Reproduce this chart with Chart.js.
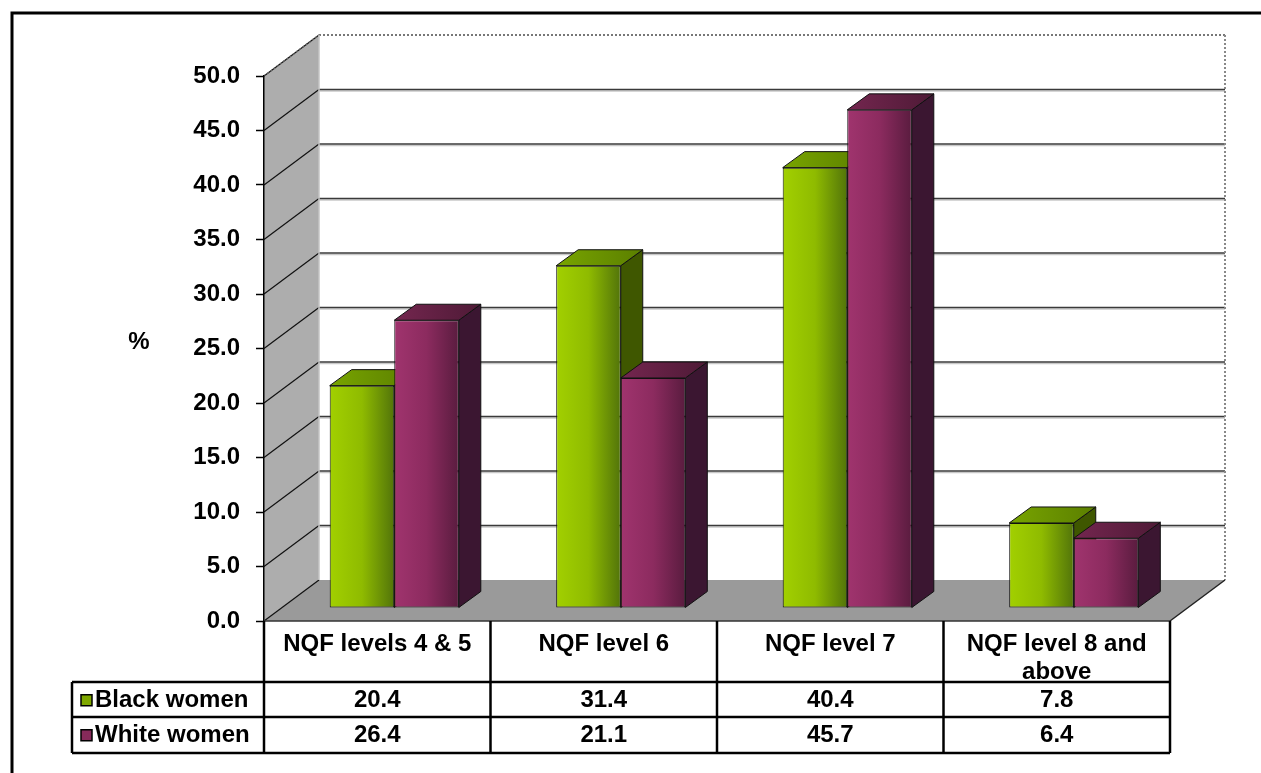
<!DOCTYPE html>
<html lang="en">
<head>
  <meta charset="UTF-8">
  <title>Black and white women by NQF level</title>
  <script src="https://cdn.jsdelivr.net/npm/chart.js"></script>
  <style>
    html, body { margin: 0; padding: 0; background: #fff; }
    canvas { display: block; }
  </style>
</head>
<body>
  <canvas id="chart" width="1261" height="773"></canvas>
  <script>
    // Data
    const categories = ['NQF levels 4 & 5', 'NQF level 6', 'NQF level 7', ['NQF level 8 and', 'above']];
    const seriesNames = ['Black women', 'White women'];
    const blackWomen = [20.4, 31.4, 40.4, 7.8];
    const whiteWomen = [26.4, 21.1, 45.7, 6.4];
    const yMin = 0;
    const yMax = 50;
    const yStep = 5;

    const FONT = "'Liberation Sans', Arial, sans-serif";
    const FONT_SIZE = 24;

    // 3D look: depth of the walls, shift of the bars into the box, bar thickness
    const WALL = { dx: 55, dy: -41 };
    const BAR_SHIFT = { dx: 17, dy: -13 };
    const BAR_DEPTH = { dx: 22, dy: -16 };
    const CAT_PCT = 0.57;

    const palette = [
      { front: ['#a2d000', '#8fbb00', '#52740a'], top: ['#78a400', '#5b7f00'], side: '#3f5700', marker: '#7fa800' },
      { front: ['#a0346e', '#8c2b5f', '#5a1c3f'], top: ['#74264f', '#4e1a36'], side: '#3b1631', marker: '#862a5a' }
    ];

    const TABLE = { left: 72, rowTops: [682, 717], rowH: 35.5, bottom: 753 };

    function barBounds(xs, index, dsIndex) {
      const cx = xs.getPixelForValue(index);
      const bw = (xs.right - xs.left) / categories.length * CAT_PCT / 2;
      const left = dsIndex === 0 ? cx - bw : cx;
      return { left: left, right: left + bw };
    }

    function frontFill(c) {
      const p = palette[c.datasetIndex];
      if (c.type !== 'data' || !c.chart.scales.x) return p.front[0];
      const b = barBounds(c.chart.scales.x, c.dataIndex, c.datasetIndex);
      if (!isFinite(b.left) || !isFinite(b.right)) return p.front[0];
      const g = c.chart.ctx.createLinearGradient(b.left, 0, b.right, 0);
      g.addColorStop(0, p.front[0]);
      g.addColorStop(0.5, p.front[1]);
      g.addColorStop(1, p.front[2]);
      return g;
    }

    function poly(ctx, pts, fill, stroke) {
      ctx.beginPath();
      ctx.moveTo(pts[0][0], pts[0][1]);
      for (let i = 1; i < pts.length; i++) ctx.lineTo(pts[i][0], pts[i][1]);
      ctx.closePath();
      if (fill) { ctx.fillStyle = fill; ctx.fill(); }
      if (stroke) { ctx.strokeStyle = stroke; ctx.lineWidth = 1; ctx.stroke(); }
    }

    function line(ctx, x1, y1, x2, y2, color, width) {
      ctx.beginPath();
      ctx.moveTo(x1, y1);
      ctx.lineTo(x2, y2);
      ctx.strokeStyle = color;
      ctx.lineWidth = width;
      ctx.stroke();
    }

    // Walls, floor and back gridlines
    const boxPlugin = {
      id: 'box3d',
      beforeDraw(chart) {
        const { ctx, chartArea: a, scales: { y } } = chart;
        ctx.save();
        ctx.fillStyle = '#fff';
        ctx.fillRect(0, 0, chart.width, chart.height);

        // outer frame
        ctx.strokeStyle = '#000';
        ctx.lineWidth = 3;
        ctx.strokeRect(12, 13, 1300, 800);

        const bl = a.left + WALL.dx, br = a.right + WALL.dx;
        const bt = a.top + WALL.dy, bb = a.bottom + WALL.dy;

        // back wall
        ctx.fillStyle = '#fff';
        ctx.fillRect(bl, bt, br - bl, bb - bt);

        // side wall
        poly(ctx, [[a.left, a.top], [bl, bt], [bl, bb], [a.left, a.bottom]], '#adadad');
        // floor
        poly(ctx, [[a.left, a.bottom], [a.right, a.bottom], [br, bb], [bl, bb]], '#9a9a9a');

        // gridlines on the back wall and the side wall
        for (let v = yMin; v <= yMax; v += yStep) {
          const yf = y.getPixelForValue(v);
          if (v > yMin && v < yMax) {
            line(ctx, bl, yf + WALL.dy + 1.5, br, yf + WALL.dy + 1.5, '#c8c8c8', 1.5);
            line(ctx, bl, yf + WALL.dy, br, yf + WALL.dy, '#3a3a3a', 1.5);
          }
          line(ctx, a.left, yf, bl, yf + WALL.dy, '#111', 1.2);
        }

        // dotted outline of the back wall
        ctx.setLineDash([2, 2]);
        line(ctx, bl, bt, br, bt, '#777', 2);
        line(ctx, br, bt, br, bb, '#888', 2);
        line(ctx, a.left, a.top, bl, bt, '#666', 1.5);
        ctx.setLineDash([]);
        line(ctx, bl, bt, bl, bb, '#c4c4c4', 1.5);
        line(ctx, br, bb, a.right, a.bottom, '#222', 1.5);
        ctx.restore();
      }
    };

    // Tops and sides of the bars, then the front faces drawn by Chart.js
    const barsPlugin = {
      id: 'bars3d',
      beforeDatasetsDraw(chart) {
        const ctx = chart.ctx;
        ctx.save();
        for (let i = 0; i < categories.length; i++) {
          for (let d = 0; d < chart.data.datasets.length; d++) {
            const el = chart.getDatasetMeta(d).data[i];
            const p = palette[d];
            const l = el.x - el.width / 2 + BAR_SHIFT.dx;
            const r = el.x + el.width / 2 + BAR_SHIFT.dx;
            const t = el.y + BAR_SHIFT.dy;
            const b = el.base + BAR_SHIFT.dy;
            const dx = BAR_DEPTH.dx, dy = BAR_DEPTH.dy;
            poly(ctx, [[r, t], [r + dx, t + dy], [r + dx, b + dy], [r, b]], p.side, '#111');
            const g = ctx.createLinearGradient(l, 0, r + dx, 0);
            g.addColorStop(0, p.top[0]);
            g.addColorStop(1, p.top[1]);
            poly(ctx, [[l, t], [r, t], [r + dx, t + dy], [l + dx, t + dy]], g, '#111');
          }
        }
        ctx.restore();
        ctx.save();
        ctx.translate(BAR_SHIFT.dx, BAR_SHIFT.dy);
      },
      afterDatasetsDraw(chart) {
        chart.ctx.restore();
      }
    };

    // Data table under the plot, "%" label
    const tablePlugin = {
      id: 'dataTable',
      afterDraw(chart) {
        const { ctx, chartArea: a, scales: { x } } = chart;
        const cw = (x.right - x.left) / categories.length;
        ctx.save();

        line(ctx, a.left, a.bottom, a.right, a.bottom, '#333', 1.5);
        for (let i = 0; i <= categories.length; i++) {
          const cx = a.left + i * cw;
          line(ctx, cx, a.bottom, cx, TABLE.bottom, '#000', 2.5);
        }
        [TABLE.rowTops[0], TABLE.rowTops[1], TABLE.bottom].forEach(yy => {
          line(ctx, TABLE.left, yy, a.right, yy, '#000', 2.5);
        });
        line(ctx, TABLE.left, TABLE.rowTops[0], TABLE.left, TABLE.bottom, '#000', 2.5);

        ctx.font = 'bold ' + FONT_SIZE + 'px ' + FONT;
        ctx.fillStyle = '#000';
        ctx.textBaseline = 'middle';
        const rows = [blackWomen, whiteWomen];
        rows.forEach((vals, r) => {
          const cy = TABLE.rowTops[r] + TABLE.rowH / 2 + 1;
          ctx.textAlign = 'center';
          vals.forEach((v, i) => {
            ctx.fillText(v.toFixed(1), x.getPixelForValue(i), cy);
          });
          // legend key
          ctx.fillStyle = palette[r].marker;
          ctx.fillRect(81, cy - 6, 11, 11);
          ctx.strokeStyle = '#000';
          ctx.lineWidth = 1.5;
          ctx.strokeRect(81, cy - 6, 11, 11);
          ctx.fillStyle = '#000';
          ctx.textAlign = 'left';
          ctx.fillText(seriesNames[r], 95, cy);
        });

        ctx.textAlign = 'center';
        ctx.fillText('%', 139, 342);
        ctx.restore();
      }
    };

    new Chart(document.getElementById('chart'), {
      type: 'bar',
      data: {
        labels: categories,
        datasets: [
          { label: seriesNames[0], data: blackWomen, backgroundColor: frontFill },
          { label: seriesNames[1], data: whiteWomen, backgroundColor: frontFill }
        ]
      },
      options: {
        responsive: false,
        devicePixelRatio: 1,
        animation: false,
        layout: { padding: { left: 0, top: 76, right: 91, bottom: 20 } },
        datasets: {
          bar: {
            categoryPercentage: CAT_PCT,
            barPercentage: 1,
            borderWidth: 1,
            borderColor: '#111',
            borderSkipped: false,
            clip: false
          }
        },
        plugins: {
          legend: { display: false },
          tooltip: { enabled: false },
          title: { display: false }
        },
        scales: {
          x: {
            grid: { display: false, drawTicks: false },
            border: { display: false },
            ticks: {
              color: '#000',
              font: { family: FONT, size: FONT_SIZE, weight: 'bold', lineHeight: 1.15 },
              padding: 10,
              maxRotation: 0,
              autoSkip: false
            },
            afterFit(scale) { scale.height = 132; }
          },
          y: {
            min: yMin,
            max: yMax,
            grid: { drawOnChartArea: false, tickLength: 8, color: '#000', tickWidth: 1.5 },
            border: { color: '#000', width: 1.5 },
            ticks: {
              stepSize: yStep,
              color: '#000',
              padding: 16,
              font: { family: FONT, size: FONT_SIZE, weight: 'bold' },
              callback: v => Number(v).toFixed(1)
            },
            afterFit(scale) { scale.width = 264; }
          }
        }
      },
      plugins: [boxPlugin, barsPlugin, tablePlugin]
    });
  </script>
</body>
</html>
